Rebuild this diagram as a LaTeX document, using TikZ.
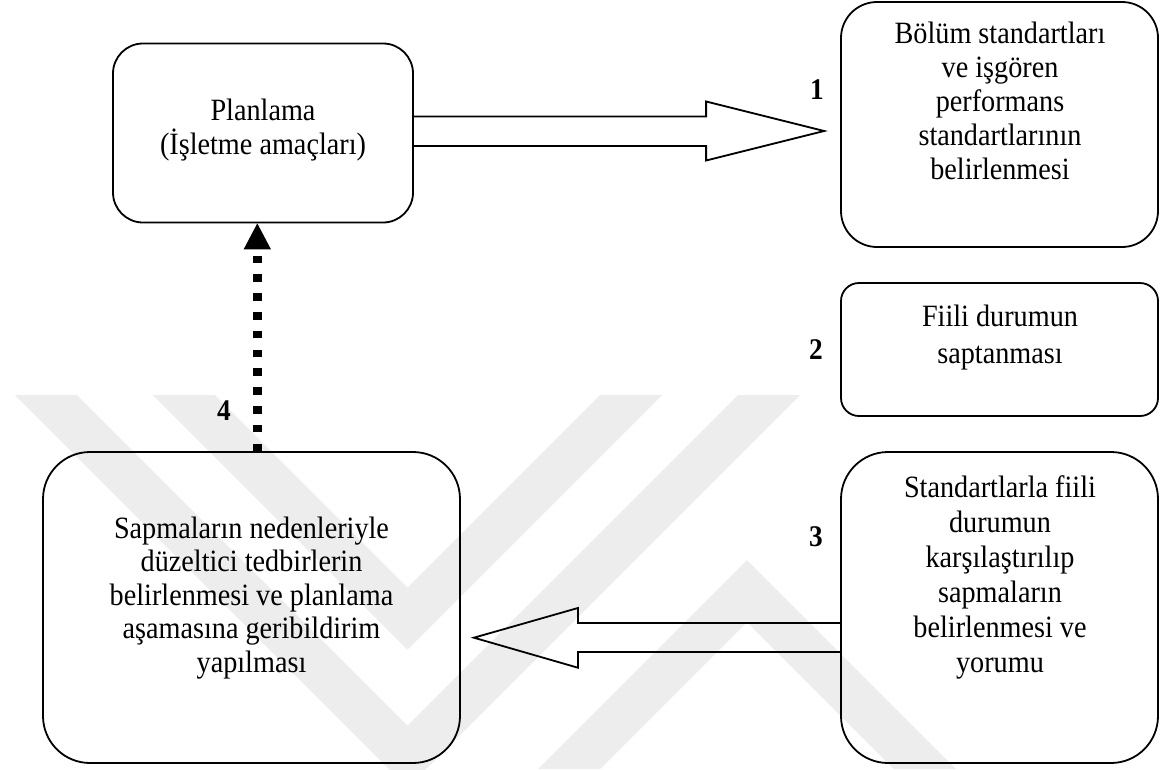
\documentclass[tikz,border=0pt]{standalone}
\usepackage{fontspec}
\setmainfont{Liberation Serif}[FakeStretch=0.91]
\usetikzlibrary{calc}
\definecolor{wmark}{RGB}{237,237,237}
\begin{document}
\begin{tikzpicture}[x=1pt,y=-1pt,
  box/.style={draw, line width=1.8pt, rounded corners=#1, inner sep=0pt, minimum width=317pt},
  box/.default=36pt,
  txt/.style={align=center, inner sep=0pt, font=\fontsize{31}{34}\selectfont},
  num/.style={inner sep=0pt, font=\fontsize{30}{34}\selectfont\bfseries},
  hollow/.style={draw, line width=1.8pt, line join=miter},
  feedback/.style={line width=9pt, dash pattern=on 7.5pt off 11.3pt}
]
\useasboundingbox (0,0) rectangle (1162,769);
\fill[white] (0,0) rectangle (1162,769);

% faint background emblem: diagonal bands
\begin{scope}
  \clip (0,395) rectangle (1162,769);
  \fill[wmark] (15,395) -- (407.5,787.5) -- (800,395) -- (738,395) -- (407.5,725.5) -- (77,395) -- cycle;
  \fill[wmark] (153,395) -- (407.5,649.5) -- (662,395) -- (600,395) -- (407.5,587.5) -- (215,395) -- cycle;
  \fill[wmark] (747,560) -- (956,769) -- (894,769) -- (747,622) -- (600,769) -- (538,769) -- cycle;
\end{scope}

% boxes
\node[box=30pt, minimum width=300pt, minimum height=179pt] (A) at (263,133) {};
\node[box, minimum height=245pt] (B) at (999.5,124.5) {};
\node[box=18pt, minimum height=133pt] (C) at (999.5,349.5) {};
\node[box=47pt, minimum height=311pt] (D) at (999.5,607.5) {};
\node[box=47pt, minimum width=417pt, minimum height=311pt] (E) at (251.5,607.5) {};

% box texts
\node[txt] (tA) at (263,130) {Planlama\\(İşletme amaçları)};
\node[txt] (tB) at (1000,101) {Bölüm standartları\\ve işgören\\performans\\standartlarının\\belirlenmesi};
\node[txt, font=\fontsize{31}{37}\selectfont] (tC) at (1000,338) {Fiili durumun\\saptanması};
\node[txt, font=\fontsize{31}{35}\selectfont] (tD) at (1000,577) {Standartlarla fiili\\durumun\\karşılaştırılıp\\sapmaların\\belirlenmesi ve\\yorumu};
\node[txt, font=\fontsize{31}{33.5}\selectfont] (tE) at (251.5,598) {Sapmaların nedenleriyle\\düzeltici tedbirlerin\\belirlenmesi ve planlama\\aşamasına geribildirim\\yapılması};

% step numbers
\node[num] (n1) at (817,90) {1};
\node[num] (n2) at (816,350) {2};
\node[num] (n3) at (816,537) {3};
\node[num] (n4) at (224,411) {4};

% block arrow 1: planning -> standards
\coordinate (t1) at ($(B.west |- A.east)+(-16,-2)$);
\draw[hollow] ($(A.east)+(0,-16.5)$) -- ($(t1)+(-118,-14.5)$) -- ($(t1)+(-118,-29.5)$)
  -- (t1) -- ($(t1)+(-118,29.5)$) -- ($(t1)+(-118,15)$) -- ($(A.east)+(0,13)$);

% block arrow 3: comparison -> corrective measures
\coordinate (t3) at ($(E.east)+(13,30.2)$);
\draw[hollow] ($(D.west)+(0,15.5)$) -- ($(t3)+(104,-14.7)$) -- ($(t3)+(104,-29.7)$)
  -- (t3) -- ($(t3)+(104,30)$) -- ($(t3)+(104,14.3)$) -- ($(D.west)+(0,44.5)$);

% feedback arrow 4
\coordinate (f0) at ($(E.north)+(5.8,0)$);
\coordinate (ftip) at (f0 |- A.south);
\coordinate (fbase) at ($(ftip)+(0,26)$);
\draw[feedback] (f0) -- (fbase);
\fill ($(fbase)+(-13.7,0)$) -- (ftip) -- ($(fbase)+(13.7,0)$) -- cycle;
\end{tikzpicture}
\end{document}
